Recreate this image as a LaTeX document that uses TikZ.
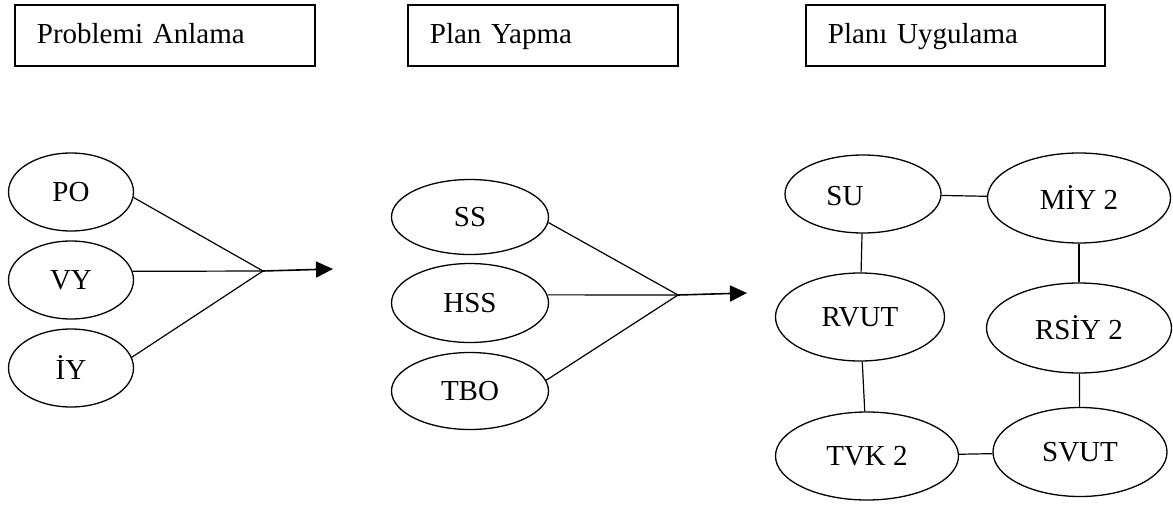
\documentclass[tikz,border=0pt]{standalone}
\usepackage{fontspec}
\setmainfont{Liberation Serif}
\usetikzlibrary{shapes.geometric,arrows.meta}

\tikzset{
  phase/.style={draw, line width=1.8pt, anchor=north west, minimum height=61pt,
    inner xsep=22pt, inner ysep=0pt, text height=21pt, text depth=5pt,
    align=left, font=\fontsize{29}{34}\selectfont},
  oval/.style={draw, ellipse, line width=1.3pt, inner sep=0pt,
    font=\fontsize{29}{34}\selectfont},
  link/.style={line width=1.2pt},
  flow/.style={line width=1.6pt, -{Triangle[length=17pt,width=16pt]}}
}

\begin{document}
\begin{tikzpicture}[x=1pt,y=-1pt]
  \useasboundingbox (0,0) rectangle (1173,506);

  % stage headings
  \node[phase, text width=256pt] (anlama) at (14,4) {Problemi Anlama};
  \node[phase, text width=226pt] (yapma) at (407,4) {Plan Yapma};
  \node[phase, text width=255pt] (uygulama) at (805,4) {Planı Uygulama};

  % understanding the problem
  \node[oval, minimum width=125pt, minimum height=78pt] (po) at (71,192) {PO};
  \node[oval, minimum width=125pt, minimum height=78pt] (vy) at (71,280) {VY};
  \node[oval, minimum width=125pt, minimum height=78pt] (iy) at (71,368) {İY};
  \coordinate (j1) at (263,271);
  \coordinate (t1) at (333,269);
  \draw[link] (po.-5) -- (j1);
  \draw[link] (vy.8) -- (j1);
  \draw[link] (iy.10) -- (j1);
  \draw[flow] (j1) -- (t1);

  % making a plan
  \node[oval, minimum width=157pt, minimum height=75pt] (ss) at (470,217) {SS};
  \node[oval, minimum width=157pt, minimum height=79pt] (hss) at (470,303) {HSS};
  \node[oval, minimum width=157pt, minimum height=77pt] (tbo) at (470,391) {TBO};
  \coordinate (j2) at (678,295);
  \coordinate (t2) at (747,293);
  \draw[link] (ss.-4) -- (j2);
  \draw[link] (hss.6) -- (j2);
  \draw[link] (tbo.8) -- (j2);
  \draw[flow] (j2) -- (t2);

  % carrying out the plan
  \node[oval, minimum width=156pt, minimum height=78pt,
    label={[xshift=-18pt, yshift=-2pt, font=\fontsize{29}{34}\selectfont]center:SU}] (su) at (863,194) {};
  \node[oval, minimum width=183pt, minimum height=90pt] (miy) at (1079,198) {MİY 2};
  \node[oval, minimum width=169pt, minimum height=88pt] (rvut) at (860,317) {RVUT};
  \node[oval, minimum width=185pt, minimum height=90pt] (rsiy) at (1079,328) {RSİY 2};
  \node[oval, minimum width=183pt, minimum height=88pt] (tvk) at (867,456) {TVK 2};
  \node[oval, minimum width=174pt, minimum height=89pt] (svut) at (1080,452) {SVUT};
  \draw[link] (su) -- (miy);
  \draw[link] (su) -- (rvut);
  \draw[link] (miy) -- (rsiy);
  \draw[link] (rvut) -- (tvk);
  \draw[link] (rsiy) -- (svut);
  \draw[link] (tvk) -- (svut);
\end{tikzpicture}
\end{document}
